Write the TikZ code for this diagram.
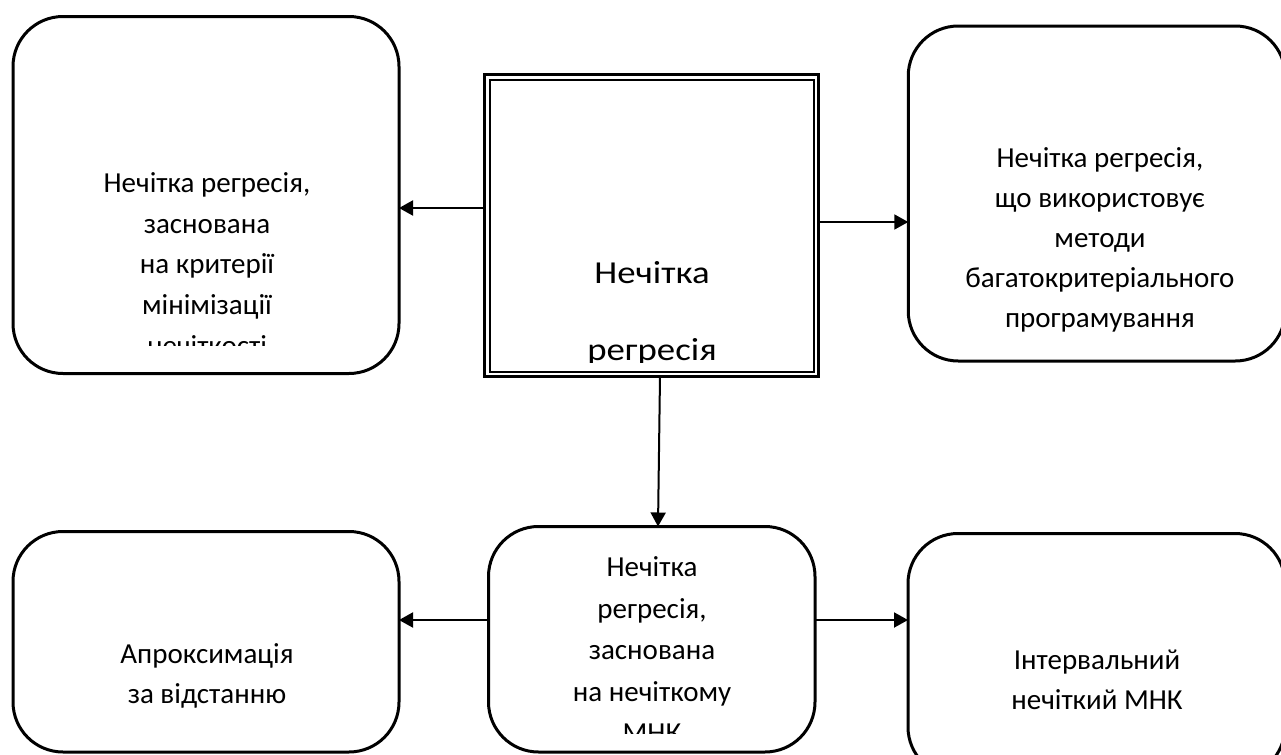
\documentclass[tikz,border=0pt]{standalone}
\usepackage{fontspec}
\setmainfont{Carlito}
\newfontfamily\shyrokyi[FakeStretch=1.15]{Carlito}
\usepackage{tikz}
\usetikzlibrary{arrows.meta,calc,positioning}

\begin{document}
\begin{tikzpicture}[x=0.5pt,y=-0.5pt,
    blok/.style={draw,line width=1.5pt,rounded corners=25pt,inner sep=0pt,outer sep=0pt},
    napys/.style={font=\fontsize{14.5}{20}\selectfont,align=center,inner sep=0pt},
    strilka/.style={line width=1pt,-{Triangle[length=7pt,width=7.5pt]}}]
    \clip (0,0) rectangle (1281,755);
    \fill[white] (0,0) rectangle (1281,755);
    \node[blok,minimum width=193pt,minimum height=178.5pt] (lt) at (206,195) {};
    \node[blok,minimum width=188.5pt,minimum height=167.5pt] (rt) at (1096.75,193.5) {};
    \node[blok,minimum width=193pt,minimum height=110.25pt] (lb) at (206,641.75) {};
    \node[blok,minimum width=163.25pt,minimum height=112.75pt] (cb) at (651.75,639.25) {};
    \node[blok,minimum width=188.5pt,minimum height=121.75pt] (rb) at (1096.5,655.25) {};
    \node[draw,line width=1.5pt,inner sep=0pt,outer sep=0pt,minimum width=167pt,minimum height=151pt] (reg) at (651.5,225.5) {};
    \draw[line width=1pt] ([shift={(2.5pt,-2.5pt)}]reg.north west) rectangle ([shift={(-2.5pt,2.5pt)}]reg.south east);
    % texts, the last line of some is cut off
    \begin{scope}
      \clip (14,17) rectangle (398,345);
      \node[napys,font=\fontsize{14.5}{20.3}\selectfont] (lt-t) at (207,264) {Нечітка регресія,\\заснована\\на критерії\\мінімізації\\нечіткості};
    \end{scope}
    \begin{scope}
      \clip (490,80) rectangle (813,362);
      \node[napys,font=\shyrokyi\fontsize{16}{38.5}\selectfont] (reg-t) at (652,313.5) {Нечітка\\регресія};
    \end{scope}
    \begin{scope}
      \clip (490,528) rectangle (813,733);
      \node[napys,font=\fontsize{14.5}{20.75}\selectfont] (cb-t) at (652,650) {Нечітка\\регресія,\\заснована\\на нечіткому\\МНК};
    \end{scope}
    \node[napys] (rt-t) at (1100,240) {Нечітка регресія,\\що використовує\\методи\\багатокритеріального\\програмування};
    \node[napys] (lb-t) at (207,676) {Апроксимація\\за відстанню};
    \node[napys] (rb-t) at (1097,680) {Інтервальний\\нечіткий МНК};
    \draw[strilka] (reg.west |- 0,208) -- (lt.east |- 0,208);
    \draw[strilka] (reg.east |- 0,222) -- (rt.west |- 0,222);
    \draw[strilka] (reg.south -| 660,0) -- (cb.north -| 658,0);
    \draw[strilka] (cb.west |- 0,620) -- (lb.east |- 0,620);
    \draw[strilka] (cb.east |- 0,620) -- (rb.west |- 0,620);
\end{tikzpicture}
\end{document}
